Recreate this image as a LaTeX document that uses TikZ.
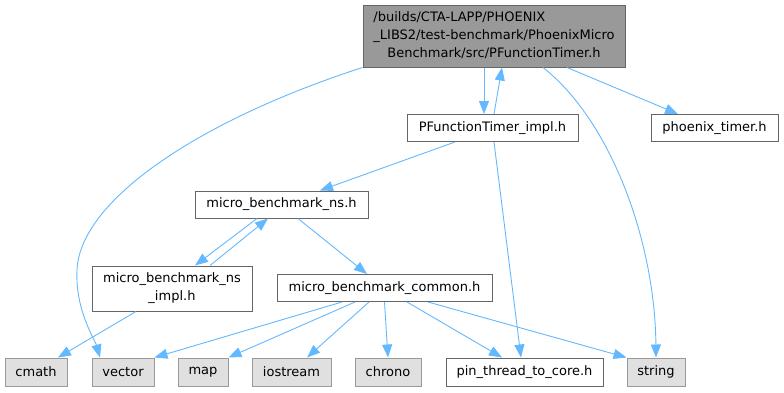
\documentclass[tikz,border=0pt]{standalone}
\usepackage{fontspec}
\setmainfont{DejaVu Sans}
\usepackage{tikz}
\usetikzlibrary{arrows.meta, positioning, calc}
\definecolor{edgeblue}{HTML}{63B8FF}
\definecolor{boxgrey}{HTML}{999999}
\definecolor{boxline}{HTML}{666666}
\definecolor{sysfill}{HTML}{E0E0E0}
\tikzset{
  file/.style={draw=boxline, fill=white, line width=1pt, inner sep=0pt, minimum height=27pt, font=\fontsize{13}{18}\selectfont},
  mainfile/.style={file, fill=boxgrey},
  sysfile/.style={file, draw=boxgrey, fill=sysfill, minimum height=28pt},
  dep/.style={draw=edgeblue, line width=0.9pt, -{Triangle[length=13pt, width=10pt]}}
}

\begin{document}
\begin{tikzpicture}[x=1pt, y=-1pt]
        \useasboundingbox (0,0) rectangle (784,392);

        % Files
        \node[mainfile, minimum width=262pt, minimum height=62pt] (main) at (494,36)
            {\begin{tabular}{@{}l@{}}/builds/CTA-LAPP/PHOENIX\\\_LIBS2/test-benchmark/PhoenixMicro\\\multicolumn{1}{@{}c@{}}{Benchmark/src/PFunctionTimer.h}\end{tabular}};
        \node[file, minimum width=171pt] (impl) at (492.5,128) {PFunctionTimer\_impl.h};
        \node[file, minimum width=127pt] (phoenix) at (714.5,128) {phoenix\_timer.h};
        \node[file, minimum width=173pt] (ns) at (281.5,204.5) {micro\_benchmark\_ns.h};
        \node[file, minimum width=160pt, minimum height=45pt, align=center] (nsimpl) at (172,288.5) {micro\_benchmark\_ns\\\_impl.h};
        \node[file, minimum width=215pt] (common) at (384.5,288) {micro\_benchmark\_common.h};
        \node[file, minimum width=157pt, minimum height=28pt] (pin) at (524.5,372) {pin\_thread\_to\_core.h};

        % System headers
        \node[sysfile, minimum width=62pt] (cmath) at (36,372) {cmath};
        \node[sysfile, minimum width=62pt] (vector) at (123,372) {vector};
        \node[sysfile, minimum width=50pt] (map) at (203,372) {map};
        \node[sysfile, minimum width=79pt] (iostream) at (291.5,372) {iostream};
        \node[sysfile, minimum width=66pt] (chrono) at (388,372) {chrono};
        \node[sysfile, minimum width=58pt] (string) at (656,372) {string};

        % Includes of the main file
        \draw[dep] ([xshift=-10pt]main.south) -- ([xshift=-8.5pt]impl.north);
        \draw[dep] ([xshift=1.5pt]impl.north) -- ([xshift=8pt]main.south);
        \draw[dep] ([xshift=73pt]main.south) -- ([xshift=-36.5pt]phoenix.north);
        \draw[dep] ([xshift=49pt]main.south) .. controls (610,120) and (655,240) .. (string.north);
        \draw[dep] (main.south west) .. controls (200,120) and (80,200) .. (77,270) .. controls (75,310) and (95,340) .. ([xshift=-23pt]vector.north);

        % Includes of the implementation
        \draw[dep] ([xshift=-37.5pt]impl.south) -- ([xshift=38.5pt]ns.north);
        \draw[dep] ([xshift=1.5pt]impl.south) -- ([xshift=-3.5pt]pin.north);

        % Namespace headers
        \draw[dep] ([xshift=-24.5pt]ns.south) -- ([xshift=23pt]nsimpl.north);
        \draw[dep] ([xshift=38pt]nsimpl.north) -- ([xshift=-13.5pt]ns.south);
        \draw[dep] ([xshift=16.5pt]ns.south) -- ([xshift=-17.5pt]common.north);
        \draw[dep] ([xshift=-36pt]nsimpl.south) -- ([xshift=22pt]cmath.north);

        % Includes of the common header
        \draw[dep] ([xshift=-42.5pt]common.south) -- (vector.north east);
        \draw[dep] ([xshift=-29.5pt]common.south) -- (map.north east);
        \draw[dep] ([xshift=-15.5pt]common.south) -- ([xshift=15.5pt]iostream.north);
        \draw[dep] (common.south) -- (chrono.north);
        \draw[dep] ([xshift=22.5pt]common.south) -- ([xshift=-22.5pt]pin.north);
        \draw[dep] ([xshift=43.5pt]common.south) -- (string.north west);
    \end{tikzpicture}
\end{document}
